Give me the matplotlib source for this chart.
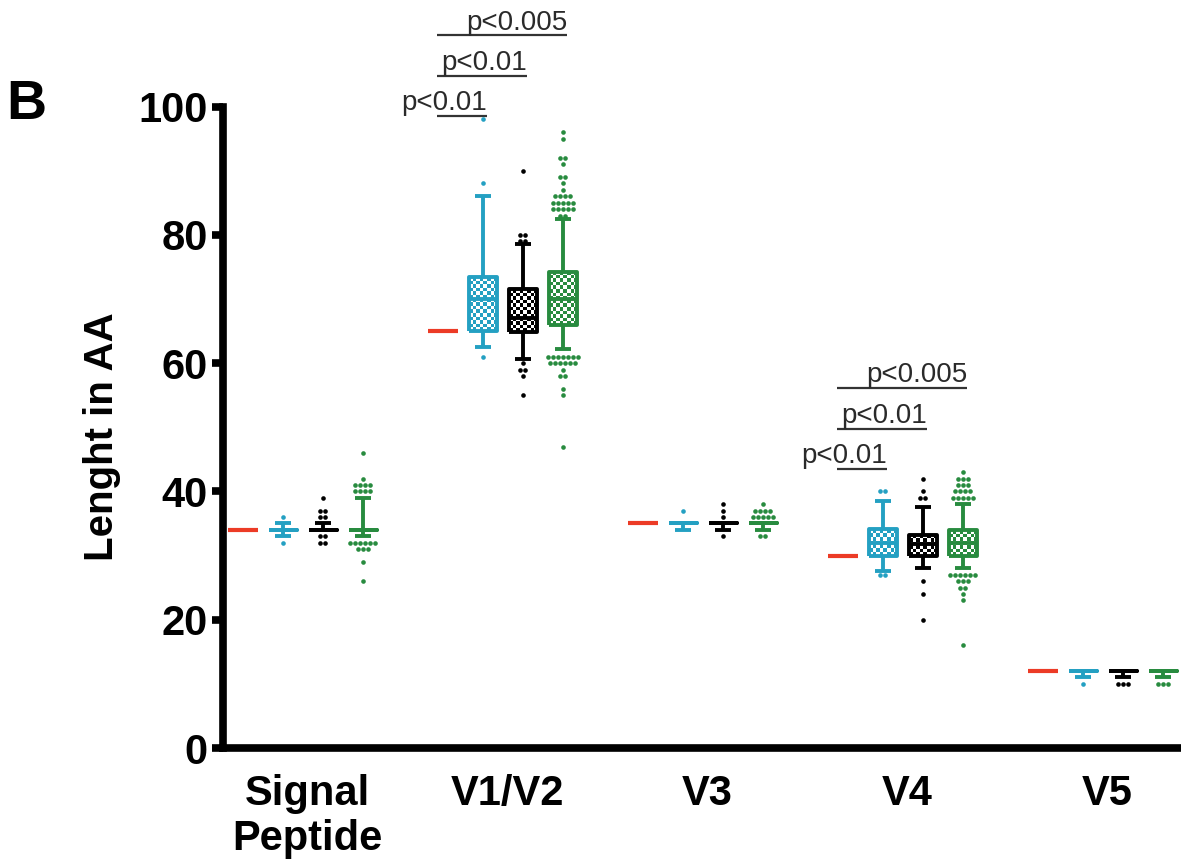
import numpy as np
import matplotlib.pyplot as plt
from matplotlib.colors import ListedColormap

plt.rcParams['font.family'] = ['Liberation Sans', 'DejaVu Sans']

regions = ['Signal\nPeptide', 'V1/V2', 'V3', 'V4', 'V5']
reference = [34, 65, 35, 30, 12]

# cyan series
cyan_q1 = [34, 65, 35, 30, 12]
cyan_med = [34, 70, 35, 32, 12]
cyan_q3 = [34, 73.4, 35, 34.2, 12]
cyan_lo = [33, 62.5, 34, 27.6, 11]
cyan_hi = [35, 86, 35, 38.5, 12]
cyan_out = [[36, 32],
            [98, 88, 61],
            [37],
            [40, 40, 27, 27],
            [10]]

# black series
black_q1 = [34, 64.8, 35, 30, 12]
black_med = [34, 67, 35, 31.8, 12]
black_q3 = [34, 71.5, 35, 33.2, 12]
black_lo = [34, 60.6, 34, 28, 11]
black_hi = [35, 78.6, 35, 37.5, 12]
black_out = [[39, 37, 37, 36, 36, 33, 33, 32, 32],
             [90, 80, 80, 79, 79, 60, 59, 59, 58, 55],
             [38, 37, 36, 33],
             [42, 40, 39, 39, 26, 24, 20],
             [10, 10, 10]]

# green series
green_q1 = [34, 65.9, 35, 30, 12]
green_med = [34, 70, 35, 32, 12]
green_q3 = [34, 74.2, 35, 34, 12]
green_lo = [33, 62.2, 34, 28, 11]
green_hi = [39, 82.5, 35, 38, 12]
green_out = [[46, 42, 41, 41, 41, 41, 40, 40, 40, 40,
              32, 32, 32, 32, 32, 32, 31, 31, 31, 29, 26],
             [96, 95, 92, 92, 91, 89, 89, 88, 87, 86, 86, 86, 86,
              85, 85, 85, 85, 85, 84, 84, 84, 84, 84, 83, 83,
              61, 61, 61, 61, 61, 61, 61, 60, 60, 60, 60, 60, 60,
              59, 58, 58, 56, 55, 47],
             [38, 37, 37, 37, 37, 36, 36, 36, 36, 36, 33, 33],
             [43, 42, 42, 42, 41, 41, 41, 40, 40, 40, 40,
              39, 39, 39, 39, 39, 27, 27, 27, 27, 27, 27,
              26, 26, 26, 25, 25, 24, 23, 16],
             [10, 10, 10]]

# comparisons vs reference (drawn over V1/V2 and V4)
comp_regions = [1, 3]
comp_labels = ['p<0.01', 'p<0.01', 'p<0.005']

red = '#ec3b26'
cyan = '#24a0c2'
green = '#288b3f'
series = [
    (cyan, cyan_q1, cyan_med, cyan_q3, cyan_lo, cyan_hi, cyan_out),
    ('black', black_q1, black_med, black_q3, black_lo, black_hi, black_out),
    (green, green_q1, green_med, green_q3, green_lo, green_hi, green_out),
]

fig = plt.figure(figsize=(11.81, 8.59), dpi=100)
ax = fig.add_axes([0.1888, 0.1292, 0.8112, 0.7468])
ax.set_xlim(-0.5, 23.45)
ax.set_ylim(0, 100)

step = 5  # slots per region
w = 0.72


def checker(x0, x1, y0, y1, color):
    p0 = ax.transData.transform((x0, y0))
    p1 = ax.transData.transform((x1, y1))
    nc = max(1, int(round(abs(p1[0] - p0[0]) / 3.6)))
    nr = max(1, int(round(abs(p1[1] - p0[1]) / 3.6)))
    grid = np.indices((nr, nc)).sum(axis=0) % 2
    ax.imshow(grid, extent=(x0, x1, y0, y1), cmap=ListedColormap(['white', color]),
              vmin=0, vmax=1, interpolation='nearest', aspect='auto', zorder=2)


# red reference lines
ref_pos = np.arange(len(regions)) * step
ax.hlines(reference, ref_pos - 0.37, ref_pos + 0.37, color=red, lw=3, zorder=3)

for j, (c, q1, med, q3, lo, hi, out) in enumerate(series):
    pos = ref_pos + j + 1
    stats = [dict(q1=q1[i], med=med[i], q3=q3[i], whislo=lo[i], whishi=hi[i], fliers=[])
             for i in range(len(regions))]
    lp = dict(color=c, lw=2.8, zorder=3, solid_capstyle='butt')
    ax.bxp(stats, positions=pos, widths=w, capwidths=0.42, showfliers=False,
           boxprops=lp, whiskerprops=lp, capprops=lp, medianprops=lp,
           manage_ticks=False)
    for i in range(len(regions)):
        if q3[i] > q1[i]:
            checker(pos[i] - w / 2, pos[i] + w / 2, q1[i], q3[i], c)
        vals, counts = np.unique(out[i], return_counts=True)
        for v, n in zip(vals, counts):
            xs = pos[i] + (np.arange(n) - (n - 1) / 2) * 0.125
            ax.scatter(xs, np.full(n, v), s=11, color=c, linewidths=0,
                       zorder=4, clip_on=False)

# significance brackets
for r in comp_regions:
    top = max(max(o[r]) for *_, o in series)
    top = max(top, max(s[5][r] for s in series))
    for k, lab in enumerate(comp_labels):
        y = top + 0.5 + k * 6.3
        x0 = ref_pos[r] - 0.15
        x1 = ref_pos[r] + k + 1.1
        ax.plot([x0, x1], [y, y], color='#333333', lw=1.6, clip_on=False,
                solid_capstyle='butt')
        ax.text(x1, y + 0.9, lab, ha='right', va='baseline', fontsize=20,
                color='#2a2a2a', clip_on=False)

ax.set_xlim(-0.5, 23.45)
ax.set_ylim(0, 100)

for s in ['top', 'right']:
    ax.spines[s].set_visible(False)
for s in ['left', 'bottom']:
    ax.spines[s].set_linewidth(5.5)

ax.set_yticks([0, 20, 40, 60, 80, 100])
ax.tick_params(axis='y', length=8, width=5.5, pad=3, labelsize=30)
ax.set_xticks(ref_pos + 1.6)
ax.set_xticklabels(regions, linespacing=1.15)
ax.tick_params(axis='x', length=0, pad=19, labelsize=30)
for t in ax.get_xticklabels() + ax.get_yticklabels():
    t.set_fontweight('bold')

ax.set_ylabel('Lenght in AA', fontsize=29, fontweight='bold')
ax.yaxis.set_label_coords(-0.106, 0.486)

fig.text(0.005, 0.8615, 'B', fontsize=40, fontweight='bold', va='baseline')

fig.savefig('out.png', dpi=100)
